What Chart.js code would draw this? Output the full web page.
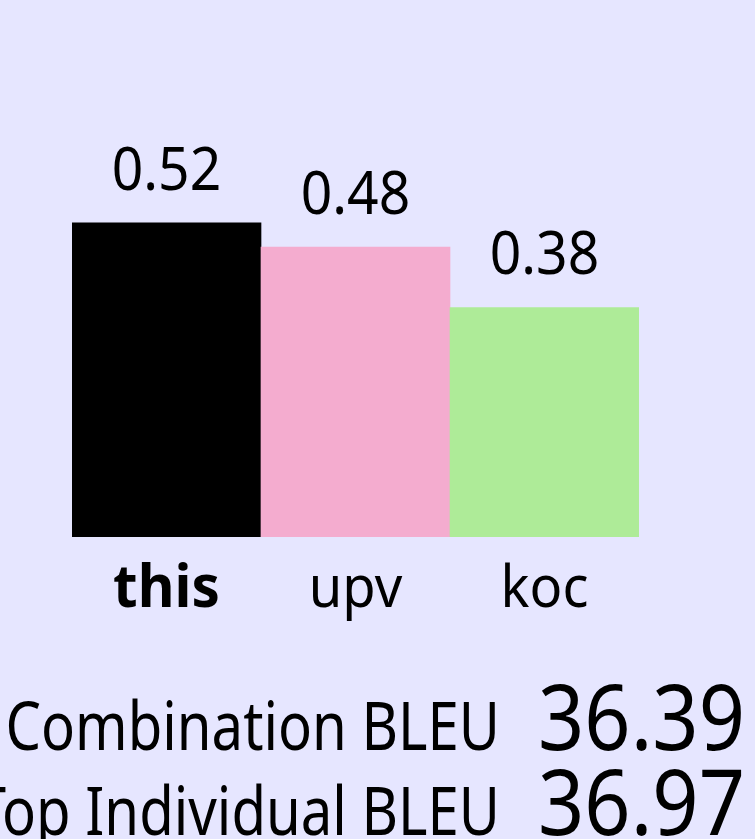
<!DOCTYPE html>
<html>
<head>
<meta charset="utf-8">
<script src="https://cdn.jsdelivr.net/npm/chart.js@4"></script>
<style>
  html, body { margin: 0; padding: 0; background: #e6e6ff; overflow: hidden; }
  canvas { display: block; }
</style>
</head>
<body>
<canvas id="c" width="755" height="839"></canvas>
<script>
const categories = ['this', 'upv', 'koc'];
const values = [0.52, 0.48, 0.38];
const valueLabels = ['0.52', '0.48', '0.38'];
const summaryLabels = ['Combination BLEU', 'Top Individual BLEU'];
const summaryValues = ['36.39', '36.97'];

const barColors = ['#000000', '#f4accf', '#aeeb98'];
const FONT = '"Noto Sans", sans-serif';

function stretchedText(ctx, text, x, y, font, sx, align) {
  ctx.save();
  ctx.font = font;
  ctx.textAlign = align;
  ctx.textBaseline = 'alphabetic';
  ctx.fillStyle = '#000';
  ctx.translate(x, y);
  ctx.scale(sx, 1);
  ctx.fillText(text, 0, 0);
  ctx.restore();
}

const labelPlugin = {
  id: 'labels',
  afterDatasetsDraw(chart) {
    const ctx = chart.ctx;
    const meta = chart.getDatasetMeta(0);
    meta.data.forEach((bar, i) => {
      stretchedText(ctx, valueLabels[i], bar.x, bar.y - 33, '60px ' + FONT, 0.92, 'center');
      const bold = i === 0;
      stretchedText(ctx, categories[i], bar.x, 607, (bold ? 'bold ' : '') + '59px ' + FONT, bold ? 0.96 : 0.92, 'center');
    });
    const baselines = [750, 835];
    summaryLabels.forEach((t, i) => {
      stretchedText(ctx, t, 500, baselines[i], '67px ' + FONT, 0.84, 'right');
      stretchedText(ctx, summaryValues[i], 745, baselines[i], '91px ' + FONT, 0.89, 'right');
    });
  }
};

new Chart(document.getElementById('c'), {
  type: 'bar',
  data: {
    labels: categories,
    datasets: [{
      data: values,
      backgroundColor: barColors,
      borderWidth: 0,
      categoryPercentage: 1.0,
      barPercentage: 1.0
    }]
  },
  options: {
    responsive: false,
    animation: false,
    devicePixelRatio: 1,
    layout: { padding: { left: 72, right: 116, top: 174.6, bottom: 302 } },
    plugins: { legend: { display: false }, tooltip: { enabled: false } },
    scales: {
      x: { display: false },
      y: { display: false, min: 0, max: 0.6 }
    }
  },
  plugins: [labelPlugin]
});
</script>
</body>
</html>
